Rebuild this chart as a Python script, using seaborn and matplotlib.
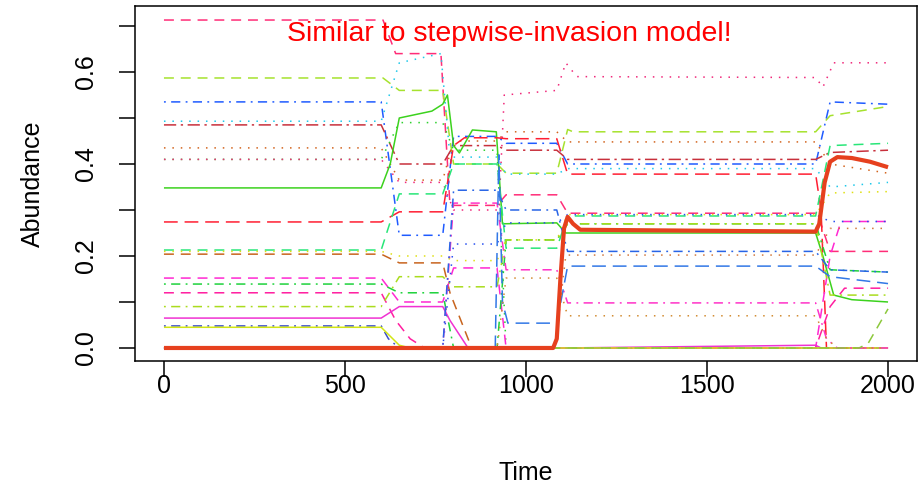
import matplotlib
matplotlib.use("Agg")
import matplotlib.pyplot as plt
import seaborn as sns
import pandas as pd

# ---- data: (time, abundance) knots ----
pink_dash = [(0, .713), (605, .713), (640, .64), (765, .64), (790, .31), (920, .31), (945, .333), (1085, .333), (1115, .293), (1805, .293), (1840, .21), (2000, .21)]
ygreen_dash = [(0, .587), (605, .587), (650, .56), (770, .56), (800, .40), (920, .40), (945, .38), (1085, .38), (1115, .475), (1130, .47), (1800, .47), (1840, .505), (2000, .525)]
blue_dotdash = [(0, .535), (600, .535), (650, .245), (770, .245), (800, .46), (920, .46), (945, .445), (1085, .445), (1115, .40), (1800, .40), (1840, .535), (2000, .53)]
cyan_dot = [(0, .493), (600, .493), (650, .62), (765, .64), (790, .415), (920, .415), (945, .378), (1085, .378), (1115, .39), (1800, .39), (1840, .35), (2000, .36)]
brred_dotdash = [(0, .485), (600, .485), (650, .40), (770, .40), (800, .44), (920, .44), (945, .43), (1085, .43), (1115, .41), (1800, .41), (1840, .425), (2000, .43)]
orange_dot = [(0, .435), (600, .435), (650, .365), (770, .365), (800, .45), (920, .45), (945, .47), (1085, .47), (1115, .448), (1800, .448), (1840, .40), (2000, .38)]
green_dot = [(0, .41), (600, .41), (650, .49), (770, .49), (800, .43), (920, .43), (945, 0), (2000, 0)]
pink_dot = [(0, .41), (600, .41), (650, .36), (770, .36), (800, .30), (925, .30), (940, .55), (1085, .56), (1110, .62), (1140, .59), (1800, .588), (1820, .567), (1850, .62), (2000, .62)]
green_solid = [(0, .348), (600, .348), (625, .40), (650, .50), (740, .515), (770, .53), (783, .55), (800, .44), (816, .424), (852, .474), (918, .47), (935, .27), (1085, .272), (1110, .25), (1800, .25), (1820, .20), (1850, .115), (1900, .105), (2000, .10)]
red_dash = [(0, .274), (600, .274), (650, .296), (770, .296), (800, .44), (830, .457), (920, .457), (945, .455), (1085, .455), (1115, .378), (1800, .378), (1815, .30), (1830, 0), (2000, 0)]
sgreen_dash = [(0, .213), (600, .213), (650, .335), (770, .335), (800, .40), (920, .40), (945, .217), (1085, .217), (1115, .287), (1800, .287), (1840, .44), (2000, .445)]
yellow_dot = [(0, .21), (600, .21), (650, .20), (770, .20), (800, .19), (920, .19), (945, .235), (1085, .235), (1115, .29), (1800, .29), (1840, .337), (2000, .34)]
brown_dash = [(0, .204), (600, .204), (650, .185), (770, .185), (790, .12), (850, 0), (2000, 0)]
magenta_dash = [(0, .152), (600, .152), (650, .10), (770, .10), (800, .174), (920, .174), (945, 0), (1800, 0), (1840, .20), (1870, .275), (2000, .275)]
green_dotdash = [(0, .139), (600, .139), (650, .12), (770, .12), (800, 0), (920, 0), (945, .235), (1085, .235), (1115, .27), (1800, .27), (1840, .17), (2000, .165)]
hotpink_dash = [(0, .12), (600, .12), (640, .06), (680, .02), (720, 0), (1800, 0), (1840, .09), (1880, .13), (2000, .13)]
ygreen_dotdash = [(0, .09), (600, .09), (650, .155), (770, .155), (800, .133), (920, .133), (945, .235), (1085, .235), (1115, .27), (1800, .27), (1840, .115), (2000, .115)]
magenta_solid = [(0, .065), (600, .065), (650, .09), (770, .09), (790, .06), (840, 0), (1100, 0), (1800, .006), (1815, 0), (2000, 0)]
slate_dotdash = [(0, .048), (600, .048), (620, .02), (650, 0), (2000, 0)]
yellow_solid = [(0, .045), (600, .045), (650, .006), (680, 0), (2000, 0)]
blue_dot = [(0, 0), (770, 0), (800, .226), (920, .226), (945, .272), (1085, .272), (1115, .29), (1800, .29), (1840, .275), (2000, .275)]
magenta_dotdash = [(0, 0), (770, 0), (800, .315), (920, .315), (945, .17), (1085, .17), (1115, .098), (1800, .098), (1830, .02), (1860, 0), (2000, 0)]
blue_dotdash2 = [(0, 0), (770, 0), (800, .343), (920, .343), (945, .30), (1085, .30), (1115, .21), (1800, .21), (1840, .17), (2000, .165)]
blue_dash = [(0, 0), (915, 0), (925, .42), (935, .10), (950, .054), (1085, .054), (1115, .178), (1800, .178), (1840, .155), (2000, .14)]
orange_dot2 = [(0, 0), (920, 0), (945, .152), (1085, .152), (1115, .07), (1800, .07), (1830, .02), (1860, 0), (2000, 0)]
tan_dot = [(0, 0), (1080, 0), (1110, .202), (1800, .202), (1840, .26), (2000, .26)]
olive_dash = [(0, 0), (1920, 0), (1945, .01), (2000, .085)]
invader = [(0, 0), (1075, 0), (1085, .02), (1095, .15), (1105, .26), (1115, .285), (1130, .27), (1150, .257), (1800, .253), (1810, .27), (1825, .36), (1840, .405), (1860, .415), (1900, .413), (1950, .405), (2000, .393)]

thin_names = ["pink_dash", "ygreen_dash", "blue_dotdash", "cyan_dot", "brred_dotdash", "orange_dot",
              "green_dot", "pink_dot", "green_solid", "red_dash", "sgreen_dash", "yellow_dot",
              "brown_dash", "magenta_dash", "green_dotdash", "hotpink_dash", "ygreen_dotdash",
              "magenta_solid", "slate_dotdash", "yellow_solid", "blue_dot", "magenta_dotdash",
              "blue_dotdash2", "blue_dash", "orange_dot2", "tan_dot", "olive_dash"]
thin_series = [pink_dash, ygreen_dash, blue_dotdash, cyan_dot, brred_dotdash, orange_dot,
               green_dot, pink_dot, green_solid, red_dash, sgreen_dash, yellow_dot,
               brown_dash, magenta_dash, green_dotdash, hotpink_dash, ygreen_dotdash,
               magenta_solid, slate_dotdash, yellow_solid, blue_dot, magenta_dotdash,
               blue_dotdash2, blue_dash, orange_dot2, tan_dot, olive_dash]

# ---- styles ----
DASH = (6.5, 4.5)
DOT = (1.0, 4.5)
DOTDASH = (1.2, 3.5, 6.0, 3.5)
LONGDOT = (8.0, 3.0, 1.5, 3.0)
LONG = (9.0, 4.5)
SOLID = ""
colors = {
    "pink_dash": "#FF2D78", "ygreen_dash": "#A6E22E", "blue_dotdash": "#1F5BFF", "cyan_dot": "#1EC8EA",
    "brred_dotdash": "#C8303C", "orange_dot": "#D2641E", "green_dot": "#2ED12E", "pink_dot": "#F0287A",
    "green_solid": "#3CD21E", "red_dash": "#FF1E32", "sgreen_dash": "#28E678", "yellow_dot": "#E0E014",
    "brown_dash": "#C8641E", "magenta_dash": "#FF28D2", "green_dotdash": "#1ED23C", "hotpink_dash": "#FF1EA0",
    "ygreen_dotdash": "#AADC1E", "magenta_solid": "#F032D2", "slate_dotdash": "#3C50C8", "yellow_solid": "#D2E614",
    "blue_dot": "#2850F0", "magenta_dotdash": "#FF32C8", "blue_dotdash2": "#2864E6", "blue_dash": "#3278E6",
    "orange_dot2": "#D28C32", "tan_dot": "#D2783C", "olive_dash": "#8CC83C",
}
dashes = {
    "pink_dash": DASH, "ygreen_dash": DASH, "blue_dotdash": DOTDASH, "cyan_dot": DOT,
    "brred_dotdash": LONGDOT, "orange_dot": DOT, "green_dot": DOT, "pink_dot": DOT,
    "green_solid": SOLID, "red_dash": LONG, "sgreen_dash": DASH, "yellow_dot": DOT,
    "brown_dash": DASH, "magenta_dash": DASH, "green_dotdash": DOTDASH, "hotpink_dash": DASH,
    "ygreen_dotdash": DOTDASH, "magenta_solid": SOLID, "slate_dotdash": DOTDASH, "yellow_solid": SOLID,
    "blue_dot": DOT, "magenta_dotdash": DOTDASH, "blue_dotdash2": DOTDASH, "blue_dash": LONG,
    "orange_dot2": DOT, "tan_dot": DOT, "olive_dash": DASH,
}

rows = []
for name, pts in zip(thin_names, thin_series):
    for i, (t, v) in enumerate(pts):
        rows.append({"species": name, "order": i, "Time": t, "Abundance": v})
df = pd.DataFrame(rows)
df_inv = pd.DataFrame({"Time": [p[0] for p in invader], "Abundance": [p[1] for p in invader]})

sns.set_theme(style="ticks")
plt.rcParams["font.family"] = ["Liberation Sans", "DejaVu Sans"]

fig = plt.figure(figsize=(9.2, 4.88), dpi=100)
ax = fig.add_axes([135 / 920, 1 - 361 / 488, (917 - 135) / 920, (361 - 6) / 488])

sns.lineplot(data=df, x="Time", y="Abundance", hue="species", style="species",
             palette=colors, dashes=dashes, estimator=None, sort=False,
             linewidth=1.1, legend=False, ax=ax)
sns.lineplot(data=df_inv, x="Time", y="Abundance", color="#E6401E", linewidth=3.0,
             estimator=None, sort=False, legend=False, ax=ax)
for ln in ax.get_lines():
    ln.set_solid_capstyle("butt")

ax.set_xlim(-80, 2080)
ax.set_ylim(-0.0283, 0.7435)
ax.set_xticks([0, 500, 1000, 1500, 2000])
ax.set_xticklabels(["0", "500", "1000", "1500", "2000"])
yt = [0.0, 0.1, 0.2, 0.3, 0.4, 0.5, 0.6, 0.7]
ax.set_yticks(yt)
ax.set_yticklabels(["0.0", "", "0.2", "", "0.4", "", "0.6", ""], rotation=90, va="center")
ax.tick_params(axis="both", direction="out", length=11.5, width=1.1, color="black",
               labelsize=18, labelcolor="black")
ax.tick_params(axis="x", pad=-2)
ax.tick_params(axis="y", pad=15)
for s in ax.spines.values():
    s.set_visible(True)
    s.set_color("black")
    s.set_linewidth(1.1)

ax.set_xlabel("Time", fontsize=18, color="black", labelpad=45)
ax.set_ylabel("Abundance", fontsize=18, color="black", labelpad=21)

ax.text(954, 0.682, "Similar to stepwise-invasion model!", color="#FF0000",
        fontsize=20.5, ha="center", va="center")

fig.savefig("out.png", dpi=100)
